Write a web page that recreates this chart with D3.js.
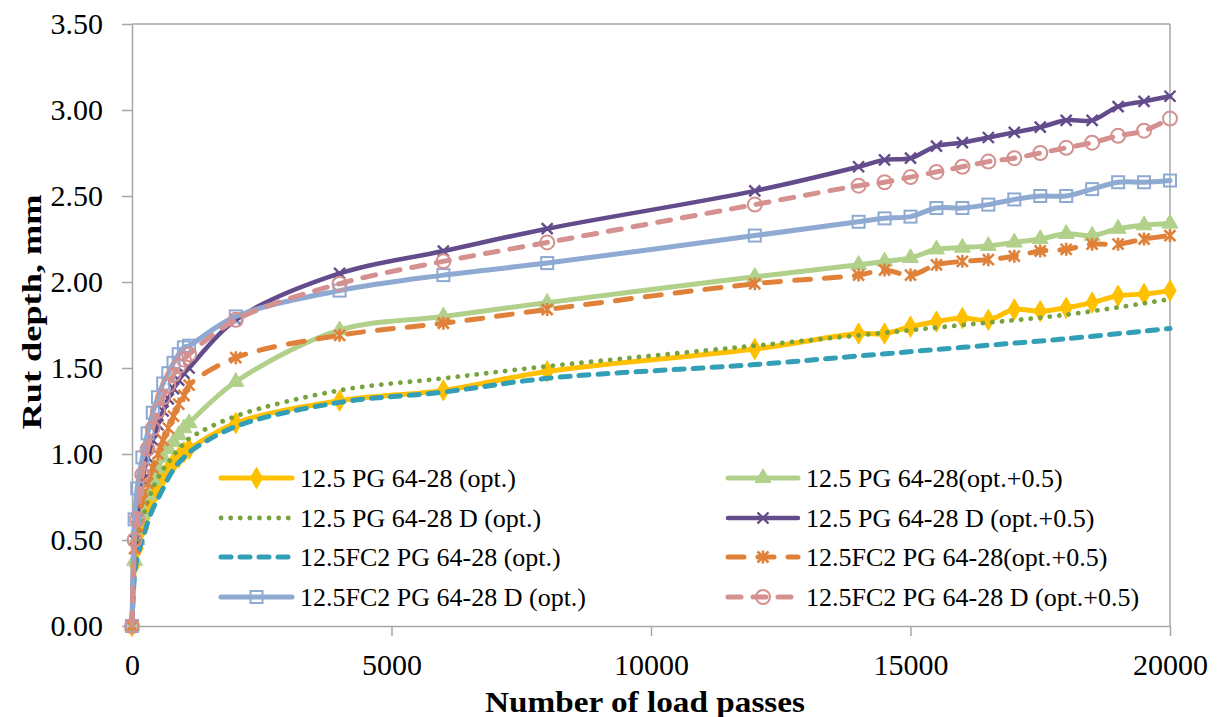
<!DOCTYPE html>
<html>
<head>
<meta charset="utf-8">
<script src="https://cdn.jsdelivr.net/npm/d3@7"></script>
<style>
  html, body { margin: 0; padding: 0; background: #fff; }
  svg { display: block; }
  text { font-family: "Liberation Serif", "Times New Roman", serif; fill: #000; }
</style>
</head>
<body>
<svg id="chart" width="1220" height="717"></svg>
<script>
// ---------------- DATA ----------------
const passesA = [0,50,100,200,300,400,500,600,700,800,900,1000,1100,2000,4000,6000,8000,12000,14000,14500,15000,15500,16000,16500,17000,17500,18000,18500,19000,19500,20000];
const passesB = [0,50,100,200,300,400,500,600,700,800,900,1000,1100,2000,4000,6000,8000,12000,14000,16000,18000,20000];

const seriesNames = [
  "12.5 PG 64-28 (opt.)",
  "12.5 PG 64-28(opt.+0.5)",
  "12.5 PG 64-28 D (opt.)",
  "12.5 PG 64-28 D (opt.+0.5)",
  "12.5FC2 PG 64-28 (opt.)",
  "12.5FC2 PG 64-28(opt.+0.5)",
  "12.5FC2 PG 64-28 D (opt.)",
  "12.5FC2 PG 64-28 D (opt.+0.5)"
];

const rutPG_opt      = [0,0.36,0.45,0.57,0.67,0.75,0.81,0.87,0.91,0.95,0.98,1.01,1.03,1.18,1.31,1.37,1.48,1.61,1.70,1.70,1.74,1.77,1.79,1.78,1.84,1.83,1.85,1.88,1.92,1.93,1.95];
const rutPG_opt05    = [0,0.38,0.50,0.65,0.76,0.85,0.92,0.98,1.03,1.07,1.11,1.15,1.18,1.42,1.72,1.80,1.88,2.03,2.10,2.12,2.14,2.19,2.20,2.21,2.23,2.25,2.28,2.27,2.31,2.33,2.34];
const rutPGD_opt     = [0,0.38,0.49,0.62,0.72,0.80,0.86,0.91,0.95,0.99,1.03,1.06,1.09,1.22,1.37,1.44,1.51,1.63,1.69,1.75,1.81,1.90];
const rutPGD_opt05   = [0,0.50,0.62,0.85,0.98,1.08,1.17,1.25,1.32,1.38,1.43,1.47,1.50,1.78,2.05,2.18,2.31,2.53,2.67,2.71,2.72,2.79,2.81,2.84,2.87,2.90,2.94,2.94,3.02,3.05,3.08];
const rutFC2_opt     = [0,0.30,0.40,0.50,0.60,0.68,0.74,0.80,0.86,0.91,0.95,0.98,1.01,1.16,1.30,1.36,1.44,1.52,1.57,1.62,1.67,1.73];
const rutFC2_opt05   = [0,0.45,0.58,0.73,0.83,0.92,1.00,1.08,1.15,1.22,1.29,1.34,1.40,1.56,1.69,1.76,1.84,1.99,2.04,2.07,2.04,2.10,2.12,2.13,2.15,2.18,2.19,2.22,2.22,2.25,2.27];
const rutFC2D_opt    = [0,0.62,0.80,0.98,1.12,1.24,1.33,1.41,1.47,1.53,1.58,1.62,1.63,1.80,1.95,2.04,2.11,2.27,2.35,2.37,2.38,2.43,2.43,2.45,2.48,2.50,2.50,2.54,2.58,2.58,2.59];
const rutFC2D_opt05  = [0,0.50,0.62,0.88,1.03,1.15,1.25,1.33,1.40,1.46,1.51,1.55,1.58,1.78,1.99,2.12,2.23,2.45,2.56,2.58,2.61,2.64,2.67,2.70,2.72,2.75,2.78,2.81,2.85,2.88,2.95];

const xTicks = [0,5000,10000,15000,20000];
const yTicks = [0,0.5,1.0,1.5,2.0,2.5,3.0,3.5];
const xTitle = "Number of load  passes";
const yTitle = "Rut depth, mm";

// ---------------- STYLES ----------------
const styles = [
  { color: "#FFC000", dash: null,     cap: "round", marker: "diamond",  w: 5 },
  { color: "#B1D08A", dash: null,     cap: "round", marker: "triangle", w: 5 },
  { color: "#77A33E", dash: "0.1 9.5",cap: "round", marker: null,       w: 4.8 },
  { color: "#634C8C", dash: null,     cap: "round", marker: "x",        w: 4.5 },
  { color: "#339FB6", dash: "10 9",   cap: "round", marker: null,       w: 5 },
  { color: "#E0813A", dash: "16 14",  cap: "round", marker: "star",     w: 5 },
  { color: "#8EA9D2", dash: null,     cap: "round", marker: "square",   w: 5 },
  { color: "#D4918F", dash: "13 12",  cap: "round", marker: "circle",   w: 5 }
];

const seriesData = [
  [passesA, rutPG_opt],
  [passesA, rutPG_opt05],
  [passesB, rutPGD_opt],
  [passesA, rutPGD_opt05],
  [passesB, rutFC2_opt],
  [passesA, rutFC2_opt05],
  [passesA, rutFC2D_opt],
  [passesA, rutFC2D_opt05]
];

// ---------------- CHART ----------------
const svg = d3.select("#chart");
const L = 132, R = 1170, T = 24, B = 626;
const x = d3.scaleLinear().domain([0, 20000]).range([L, R]);
const y = d3.scaleLinear().domain([0, 3.5]).range([B, T]);
const axisColor = "#a6a6a6";

svg.append("line").attr("x1", L).attr("x2", R).attr("y1", T).attr("y2", T)
  .attr("stroke", axisColor).attr("stroke-width", 1.5);
svg.append("line").attr("x1", R).attr("x2", R).attr("y1", T).attr("y2", B)
  .attr("stroke", axisColor).attr("stroke-width", 1.5);

const yAxis = svg.append("g").attr("transform", `translate(${L},0)`)
  .call(d3.axisLeft(y).tickValues(yTicks).tickFormat(d3.format(".2f")).tickSize(10).tickSizeOuter(0).tickPadding(19));
const xAxis = svg.append("g").attr("transform", `translate(0,${B})`)
  .call(d3.axisBottom(x).tickValues(xTicks).tickFormat(d3.format("d")).tickSize(10).tickSizeOuter(0).tickPadding(18));
[yAxis, xAxis].forEach(g => {
  g.select(".domain").attr("stroke", axisColor).attr("stroke-width", 1.5);
  g.selectAll(".tick line").attr("stroke", axisColor).attr("stroke-width", 1.5);
  g.selectAll(".tick text").attr("font-family", "Liberation Serif").attr("font-size", 30).attr("fill", "#000");
});

svg.append("text").attr("x", 645).attr("y", 712).attr("text-anchor", "middle")
  .attr("font-size", 30).attr("font-weight", "bold")
  .attr("textLength", 320).attr("lengthAdjust", "spacingAndGlyphs").text(xTitle);
svg.append("text").attr("transform", "translate(41,312) rotate(-90)").attr("text-anchor", "middle")
  .attr("font-size", 28).attr("font-weight", "bold")
  .attr("textLength", 235).attr("lengthAdjust", "spacingAndGlyphs").text(yTitle);

function drawMarker(g, type, color, cx, cy) {
  const m = g.append("g").attr("transform", `translate(${cx},${cy})`);
  if (type === "diamond") {
    m.append("path").attr("d", d3.symbol(d3.symbolDiamond, 130)()).attr("fill", color).attr("stroke", color).attr("stroke-width", 1);
  } else if (type === "triangle") {
    m.append("path").attr("d", d3.symbol(d3.symbolTriangle, 110)()).attr("fill", color).attr("stroke", color).attr("stroke-width", 1);
  } else if (type === "x") {
    m.append("path").attr("d", "M-5.5,-5.5L5.5,5.5M-5.5,5.5L5.5,-5.5").attr("stroke", color).attr("stroke-width", 2.4).attr("fill", "none");
  } else if (type === "star") {
    m.append("path").attr("d", "M-5.5,-5.5L5.5,5.5M-5.5,5.5L5.5,-5.5M0,-6.5L0,6.5").attr("stroke", color).attr("stroke-width", 2.6).attr("fill", "none");
  } else if (type === "square") {
    m.append("rect").attr("x", -6).attr("y", -6).attr("width", 12).attr("height", 12)
      .attr("fill", "none").attr("stroke", color).attr("stroke-width", 2);
  } else if (type === "circle") {
    m.append("circle").attr("r", 7).attr("fill", "none").attr("stroke", color).attr("stroke-width", 2);
  }
}

const line = d3.line().x(d => x(d[0])).y(d => y(d[1])).curve(d3.curveCatmullRom.alpha(0.5));
const plot = svg.append("g");
seriesData.forEach((sd, i) => {
  const st = styles[i];
  const pts = sd[0].map((p, k) => [p, sd[1][k]]);
  const g = plot.append("g");
  const path = g.append("path").datum(pts).attr("d", line)
    .attr("fill", "none").attr("stroke", st.color).attr("stroke-width", st.w)
    .attr("stroke-linecap", st.cap).attr("stroke-linejoin", "round");
  if (st.dash) path.attr("stroke-dasharray", st.dash);
  if (st.marker) pts.forEach(p => drawMarker(g, st.marker, st.color, x(p[0]), y(p[1])));
});

const legCols = [{ lx1: 221, lx2: 292, tx: 300 }, { lx1: 728, lx2: 798, tx: 806 }];
const legRows = [478, 518, 557, 597];
seriesNames.forEach((name, i) => {
  const st = styles[i];
  const col = legCols[i % 2], ry = legRows[Math.floor(i / 2)];
  const g = svg.append("g");
  const ln = g.append("line").attr("x1", col.lx1).attr("x2", col.lx2).attr("y1", ry).attr("y2", ry)
    .attr("stroke", st.color).attr("stroke-width", st.w).attr("stroke-linecap", st.cap);
  if (st.dash) ln.attr("stroke-dasharray", st.dash);
  if (st.marker) drawMarker(g, st.marker, st.color, (col.lx1 + col.lx2) / 2, ry);
  g.append("text").attr("x", col.tx).attr("y", ry + 9).attr("font-size", 26).text(name);
});
</script>
</body>
</html>
